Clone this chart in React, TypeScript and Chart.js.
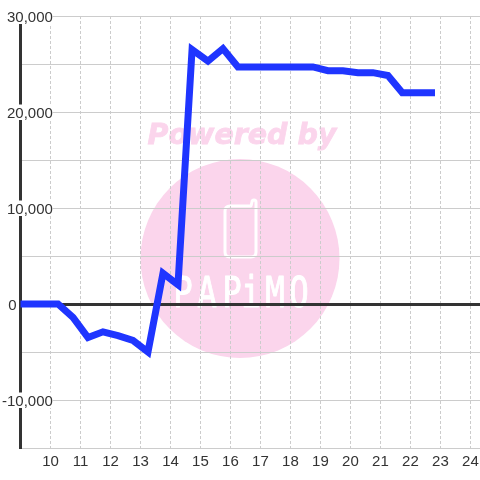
import React, { useEffect, useRef } from "react";
import { Chart, registerables } from "chart.js";

Chart.register(...registerables);

const hours = [8.75, 9.25, 9.75, 10.25, 10.75, 11.25, 11.75, 12.25, 12.75, 13.25, 13.75, 14.25, 14.72, 15.25, 15.75, 16.25, 16.75, 17.25, 17.75, 18.25, 18.75, 19.25, 19.75, 20.25, 20.75, 21.25, 21.73, 22.25, 22.82];
const profit = [0, 0, 0, 0, -1400, -3500, -2900, -3300, -3800, -5000, 3200, 2000, 26500, 25300, 26600, 24700, 24700, 24700, 24700, 24700, 24700, 24300, 24300, 24100, 24100, 23800, 22000, 22000, 22000];
const labelledY = [30000, 20000, 10000, 0, -10000];
const brandTitle = "Powered by";
const brandName = ["P", "A", "P", "i", "M", "O"];

const INK = "#333333";
const GRID = "#cccccc";
const PINK = "#fbd5ec";

const watermark = {
  id: "watermark",
  beforeDraw(chart: any) {
    const c = chart.ctx as CanvasRenderingContext2D;
    c.save();
    c.fillStyle = "#ffffff";
    c.fillRect(0, 0, 480, 480);
    c.fillStyle = PINK;
    c.beginPath();
    c.arc(240, 258.5, 99.5, 0, Math.PI * 2);
    c.fill();
    c.font = "italic bold 28.5px 'DejaVu Sans'";
    c.textAlign = "center";
    c.textBaseline = "alphabetic";
    c.fillText(brandTitle, 242, 144);
    c.strokeStyle = PINK;
    c.lineWidth = 0.8;
    c.strokeText(brandTitle, 242, 144);
    c.strokeStyle = "#ffffff";
    c.lineWidth = 3;
    c.lineJoin = "round";
    c.beginPath();
    c.moveTo(230, 206);
    c.lineTo(251, 206);
    c.arc(254, 202, 2, Math.PI, 0);
    c.lineTo(256, 252);
    c.quadraticCurveTo(256, 257, 251, 257);
    c.lineTo(230, 257);
    c.quadraticCurveTo(225, 257, 225, 252);
    c.lineTo(225, 211);
    c.quadraticCurveTo(225, 206, 230, 206);
    c.stroke();
    c.fillStyle = "#ffffff";
    c.strokeStyle = "#ffffff";
    c.lineWidth = 0.8;
    c.font = "36px 'DejaVu Sans Mono'";
    c.textAlign = "center";
    const xs = [183, 207, 232, 251, 275, 299];
    brandName.forEach((ch, i) => {
      c.save();
      c.translate(xs[i], 307);
      c.scale(0.9, 1.2);
      c.fillText(ch, 0, 0);
      c.strokeText(ch, 0, 0);
      c.restore();
    });
    c.restore();
  },
};

export default function App() {
  const ref = useRef<HTMLCanvasElement>(null);
  useEffect(() => {
    const chart = new Chart(ref.current!, {
      type: "line",
      data: {
        datasets: [
          {
            data: hours.map((x, i) => ({ x, y: profit[i] })),
            borderColor: "#1f35ff",
            borderWidth: 7,
            pointRadius: 0,
            tension: 0,
            borderJoinStyle: "miter",
            borderCapStyle: "butt",
          },
        ],
      },
      options: {
        responsive: false,
        animation: false,
        devicePixelRatio: 1,
        layout: { padding: { left: 20, top: 16, right: 0, bottom: 4 } },
        plugins: { legend: { display: false }, title: { display: false }, tooltip: { enabled: false } },
        scales: {
          x: {
            type: "linear",
            min: 9,
            max: 24.32,
            afterBuildTicks: (s: any) => {
              s.ticks = [];
              for (let v = 9; v <= 24; v++) s.ticks.push({ value: v });
            },
            afterFit: (s: any) => {
              s.paddingRight = 0;
              s.paddingLeft = 0;
            },
            grid: {
              drawTicks: false,
              color: (ctx: any) => (ctx.tick && ctx.tick.value === 9 ? "rgba(0,0,0,0)" : GRID),
              lineWidth: 1,
            },
            border: { display: false, dash: [3, 2] },
            ticks: {
              autoSkip: false,
              maxRotation: 0,
              padding: 5,
              color: INK,
              font: { family: "'Liberation Sans'", size: 15 },
              callback: (v: any) => (v === 9 ? "" : String(v)),
            },
          },
          y: {
            min: -15000,
            max: 30000,
            afterFit: (s: any) => {
              s.width = 0.5;
            },
            afterBuildTicks: (s: any) => {
              s.ticks = [];
              for (let v = -15000; v <= 30000; v += 5000) s.ticks.push({ value: v });
            },
            grid: {
              drawTicks: false,
              color: (ctx: any) => (ctx.tick && ctx.tick.value === 0 ? INK : GRID),
              lineWidth: (ctx: any) => (ctx.tick && ctx.tick.value === 0 ? 3 : 1),
            },
            border: { display: true, color: INK, width: 3, z: 0 },
            ticks: {
              z: 1,
              mirror: true,
              crossAlign: "far",
              padding: -18.5,
              labelOffset: 1.5,
              color: INK,
              autoSkip: false,
              showLabelBackdrop: true,
              backdropPadding: { top: 0, bottom: -2.5, left: 0, right: 0 },
              backdropColor: (ctx: any) =>
                ctx.tick && ctx.tick.value !== 0 && labelledY.includes(ctx.tick.value) ? "#ffffff" : "rgba(0,0,0,0)",
              font: { family: "'Liberation Sans'", size: 15 },
              callback: (v: any) =>
                !labelledY.includes(v) ? "" : v === 0 ? "0" + "\u00a0".repeat(8) + "\u2009" : Number(v).toLocaleString("en-US"),
            },
          },
        },
      },
      plugins: [watermark],
    } as any);
    return () => chart.destroy();
  }, []);
  return (
    <div style={{ position: "fixed", left: 0, top: 0, width: 480, height: 480 }}>
      <canvas ref={ref} width={480} height={480} style={{ display: "block" }} />
    </div>
  );
}
